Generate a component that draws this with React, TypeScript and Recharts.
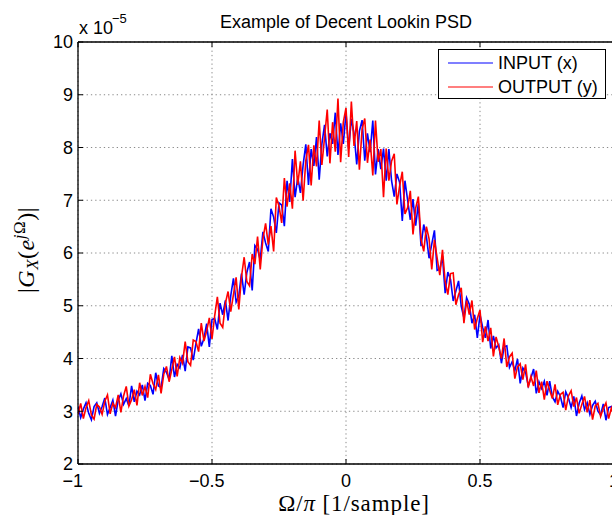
import React from 'react';
import { LineChart, Line, XAxis, YAxis, CartesianGrid, Legend } from 'recharts';

// Normalized frequency Ω/π
const freq = [
  -1, -0.99, -0.98, -0.97, -0.96, -0.95, -0.94, -0.93, -0.92, -0.91,
  -0.9, -0.89, -0.88, -0.87, -0.86, -0.85, -0.84, -0.83, -0.82, -0.81,
  -0.8, -0.79, -0.78, -0.77, -0.76, -0.75, -0.74, -0.73, -0.72, -0.71,
  -0.7, -0.69, -0.68, -0.67, -0.66, -0.65, -0.64, -0.63, -0.62, -0.61,
  -0.6, -0.59, -0.58, -0.57, -0.56, -0.55, -0.54, -0.53, -0.52, -0.51,
  -0.5, -0.49, -0.48, -0.47, -0.46, -0.45, -0.44, -0.43, -0.42, -0.41,
  -0.4, -0.39, -0.38, -0.37, -0.36, -0.35, -0.34, -0.33, -0.32, -0.31,
  -0.3, -0.29, -0.28, -0.27, -0.26, -0.25, -0.24, -0.23, -0.22, -0.21,
  -0.2, -0.19, -0.18, -0.17, -0.16, -0.15, -0.14, -0.13, -0.12, -0.11,
  -0.1, -0.09, -0.08, -0.07, -0.06, -0.05, -0.04, -0.03, -0.02, -0.01,
  0, 0.01, 0.02, 0.03, 0.04, 0.05, 0.06, 0.07, 0.08, 0.09,
  0.1, 0.11, 0.12, 0.13, 0.14, 0.15, 0.16, 0.17, 0.18, 0.19,
  0.2, 0.21, 0.22, 0.23, 0.24, 0.25, 0.26, 0.27, 0.28, 0.29,
  0.3, 0.31, 0.32, 0.33, 0.34, 0.35, 0.36, 0.37, 0.38, 0.39,
  0.4, 0.41, 0.42, 0.43, 0.44, 0.45, 0.46, 0.47, 0.48, 0.49,
  0.5, 0.51, 0.52, 0.53, 0.54, 0.55, 0.56, 0.57, 0.58, 0.59,
  0.6, 0.61, 0.62, 0.63, 0.64, 0.65, 0.66, 0.67, 0.68, 0.69,
  0.7, 0.71, 0.72, 0.73, 0.74, 0.75, 0.76, 0.77, 0.78, 0.79,
  0.8, 0.81, 0.82, 0.83, 0.84, 0.85, 0.86, 0.87, 0.88, 0.89,
  0.9, 0.91, 0.92, 0.93, 0.94, 0.95, 0.96, 0.97, 0.98, 0.99,
  1,
];

// INPUT (x) PSD, units of 1e-5
const inputX = [
  3.09, 2.88, 3.04, 3.16, 2.96, 2.84, 3.09, 3.16, 2.96, 3.09,
  3.25, 2.94, 3.07, 3.21, 2.91, 3.21, 3.33, 3.13, 3.24, 3.10,
  3.48, 3.18, 3.38, 3.31, 3.50, 3.20, 3.53, 3.49, 3.32, 3.73,
  3.48, 3.45, 3.81, 3.74, 3.60, 4.05, 3.65, 3.89, 3.82, 4.07,
  3.76, 4.22, 4.20, 3.97, 4.28, 4.56, 4.23, 4.38, 4.66, 4.22,
  4.74, 4.76, 4.55, 5.05, 4.83, 5.10, 4.72, 5.19, 5.52, 5.07,
  5.19, 5.61, 5.21, 5.63, 5.83, 5.29, 6.14, 6.07, 5.87, 6.40,
  6.19, 6.03, 6.84, 6.68, 6.38, 6.95, 6.91, 6.51, 7.37, 6.97,
  7.78, 7.06, 7.43, 7.14, 7.67, 8.06, 7.29, 7.97, 7.65, 8.20,
  7.39, 8.07, 8.43, 7.83, 8.27, 8.07, 8.66, 7.86, 8.46, 8.07,
  8.66, 7.98, 8.54, 8.27, 7.68, 8.31, 8.52, 7.75, 8.27, 7.91,
  8.51, 7.49, 7.97, 7.59, 7.98, 7.37, 7.97, 7.37, 7.07, 7.50,
  7.34, 6.61, 7.37, 7.00, 6.63, 7.02, 6.52, 6.94, 6.13, 6.54,
  6.31, 5.90, 6.17, 6.43, 5.67, 5.69, 5.94, 5.24, 5.64, 5.50,
  5.09, 5.28, 5.47, 4.99, 4.77, 5.15, 5.03, 4.67, 4.83, 4.39,
  4.83, 4.59, 4.39, 4.73, 4.19, 4.43, 4.20, 4.26, 3.91, 4.22,
  4.24, 3.83, 3.94, 3.77, 3.99, 3.53, 3.82, 3.74, 3.48, 3.63,
  3.80, 3.34, 3.56, 3.43, 3.57, 3.30, 3.57, 3.27, 3.18, 3.38,
  3.28, 3.07, 3.37, 3.25, 3.07, 3.28, 2.91, 3.15, 3.29, 3.03,
  3.16, 2.94, 3.11, 3.19, 3.00, 2.93, 3.14, 2.83, 3.07, 3.09,
  2.94,
];

// OUTPUT (y) PSD, units of 1e-5
const outputY = [
  2.94, 3.15, 2.86, 3.07, 3.20, 2.93, 2.85, 3.13, 3.08, 2.94,
  3.19, 3.31, 2.95, 3.15, 3.07, 3.31, 2.98, 3.29, 3.47, 3.10,
  3.22, 3.41, 3.11, 3.54, 3.30, 3.47, 3.26, 3.70, 3.52, 3.41,
  3.69, 3.34, 3.70, 3.85, 3.56, 3.79, 4.03, 3.66, 4.02, 3.91,
  4.32, 3.94, 3.87, 4.35, 4.32, 4.13, 4.67, 4.33, 4.52, 4.77,
  4.37, 4.81, 5.17, 4.67, 4.59, 5.05, 5.27, 4.89, 5.21, 5.54,
  4.93, 5.55, 5.92, 5.46, 5.38, 5.98, 5.79, 6.31, 5.69, 6.27,
  6.56, 6.16, 6.51, 6.03, 7.05, 6.89, 6.57, 7.42, 6.88, 7.32,
  6.84, 7.94, 7.29, 7.74, 6.99, 7.75, 8.05, 7.28, 8.04, 7.64,
  8.51, 7.67, 8.19, 8.72, 7.70, 8.48, 7.92, 8.93, 7.72, 8.48,
  8.75, 7.82, 8.87, 8.03, 8.50, 7.58, 8.35, 8.55, 7.71, 8.15,
  7.47, 8.51, 7.73, 7.97, 7.06, 7.98, 7.37, 7.74, 7.88, 6.92,
  7.27, 7.54, 6.74, 6.86, 7.18, 6.35, 6.85, 7.07, 6.26, 6.03,
  6.50, 6.27, 5.69, 6.25, 5.91, 5.58, 6.06, 5.46, 5.21, 5.61,
  5.62, 5.02, 5.21, 5.34, 4.67, 5.10, 4.83, 5.10, 4.55, 4.76,
  4.92, 4.31, 4.61, 4.33, 4.58, 4.04, 4.41, 4.22, 4.00, 4.38,
  3.84, 4.03, 4.10, 3.62, 3.84, 3.90, 3.60, 3.89, 3.45, 3.66,
  3.48, 3.77, 3.35, 3.56, 3.22, 3.57, 3.40, 3.24, 3.51, 3.12,
  3.32, 3.36, 3.02, 3.29, 3.39, 3.09, 3.26, 2.96, 3.13, 3.28,
  2.98, 3.21, 2.84, 3.10, 3.15, 2.90, 3.05, 3.16, 2.86, 3.06,
  2.91,
];

const xTicks = [-1, -0.5, 0, 0.5, 1];
const yTicks = [2, 3, 4, 5, 6, 7, 8, 9, 10];
const seriesNames = ['INPUT (x)', 'OUTPUT (y)'];
const titleText = 'Example of Decent Lookin PSD';

const rows = freq.map((f, i) => ({ f, x: inputX[i], y: outputY[i] }));

const SANS = '"Liberation Sans", Arial, Helvetica, sans-serif';
const SERIF = '"Liberation Serif", "DejaVu Serif", serif';
const FS = 18;

const numWidth = (s: string) => {
  let w = 0;
  for (const c of s) w += c === '.' ? 0.278 : 0.556;
  return w * FS;
};

const BottomTick = (props: any) => {
  const { x, y, payload } = props;
  const v: number = payload.value;
  const num = String(Math.abs(v));
  const w = numWidth(num);
  return (
    <g>
      <line x1={x} x2={x} y1={y} y2={y - 5} stroke="#000" strokeWidth={1} />
      <text x={x} y={y + 23} textAnchor="middle" fontFamily={SANS} fontSize={FS} fill="#000">
        {num}
      </text>
      {v < 0 && (
        <text x={x - w / 2} y={y + 23} textAnchor="end" fontFamily={SANS} fontSize={FS} fill="#000">
          {'\u2212'}
        </text>
      )}
    </g>
  );
};

const TopTick = (props: any) => {
  const { x, y } = props;
  return <line x1={x} x2={x} y1={y} y2={y + 5} stroke="#000" strokeWidth={1} />;
};

const LeftTick = (props: any) => {
  const { x, y, payload } = props;
  return (
    <g>
      <line x1={x} x2={x + 5} y1={y} y2={y} stroke="#000" strokeWidth={1} />
      <text x={x - 5} y={y} dy="0.36em" textAnchor="end" fontFamily={SANS} fontSize={FS} fill="#000">
        {payload.value}
      </text>
    </g>
  );
};

const TitleLabel = (props: any) => {
  const vb = props.viewBox || {};
  return (
    <text x={vb.x + vb.width / 2} y={vb.y + 6} textAnchor="middle" fontFamily={SANS} fontSize={FS} fill="#000">
      {titleText}
    </text>
  );
};

const XTitle = (props: any) => {
  const vb = props.viewBox || {};
  return (
    <text
      x={vb.x + vb.width / 2 + 8}
      y={vb.y + 47}
      textAnchor="middle"
      fontFamily={SERIF}
      fontSize={23}
      letterSpacing={0.9}
      fill="#000"
    >
      <tspan>Ω</tspan>
      <tspan>/</tspan>
      <tspan fontStyle="italic">π</tspan>
      <tspan> [1/sample]</tspan>
    </text>
  );
};

const YTitle = (props: any) => {
  const vb = props.viewBox || {};
  const cx = vb.x + 34;
  const cy = vb.y + vb.height / 2 - 3;
  return (
    <g>
      <text
        x={cx}
        y={cy}
        transform={`rotate(-90 ${cx} ${cy})`}
        textAnchor="middle"
        fontFamily={SERIF}
        fontSize={24}
        letterSpacing={0.5}
        fill="#000"
      >
        <tspan>|</tspan>
        <tspan fontStyle="italic">G</tspan>
        <tspan fontStyle="italic" fontSize={17} dy={4}>X</tspan>
        <tspan dy={-4}>(</tspan>
        <tspan fontStyle="italic">e</tspan>
        <tspan fontSize={17} dy={-9}>
          <tspan fontStyle="italic">j</tspan>Ω
        </tspan>
        <tspan dy={9}>)|</tspan>
      </text>
      <text x={vb.x + vb.width + 1} y={vb.y - 8} fontFamily={SANS} fontSize={FS} fill="#000">
        x 10
      </text>
      <text x={vb.x + vb.width + 34} y={vb.y - 19} fontFamily={SANS} fontSize={13} fill="#000">
        {'\u22125'}
      </text>
    </g>
  );
};

const LegendBox = (props: any) => {
  const payload = props.payload || [];
  return (
    <div
      style={{
        width: 166,
        height: 48,
        border: '1px solid #000',
        background: '#fff',
        fontFamily: SANS,
        fontSize: FS,
        color: '#000',
        boxSizing: 'content-box',
      }}
    >
      {payload.map((p: any, i: number) => (
        <div key={i} style={{ position: 'relative', height: 24, lineHeight: '24px' }}>
          <svg width={46} height={24} style={{ position: 'absolute', left: 9, top: 1 }}>
            <line x1={0} x2={45} y1={12} y2={12} stroke={p.color} strokeWidth={1.2} />
          </svg>
          <span style={{ position: 'absolute', left: 59, top: 1, whiteSpace: 'nowrap' }}>{p.value}</span>
        </div>
      ))}
    </div>
  );
};

export default function App() {
  return (
    <div
      style={{
        position: 'absolute',
        left: 0,
        top: 0,
        width: 612,
        height: 515,
        overflow: 'hidden',
        background: '#fff',
      }}
    >
      <LineChart width={640} height={515} data={rows} margin={{ top: 22, right: 26, bottom: 21, left: 0 }}>
        <CartesianGrid stroke="#8a8a8a" strokeDasharray="1.3 3" strokeWidth={1} />
        <XAxis
          dataKey="f"
          type="number"
          domain={[-1, 1]}
          ticks={xTicks}
          allowDataOverflow
          height={30}
          tickSize={0}
          tickMargin={0}
          tickLine={false}
          axisLine={{ stroke: '#000', strokeWidth: 1.3 }}
          tick={<BottomTick />}
          interval={0}
          label={(p: any) => <XTitle {...p} />}
        />
        <XAxis
          xAxisId="top"
          orientation="top"
          dataKey="f"
          type="number"
          domain={[-1, 1]}
          ticks={xTicks}
          allowDataOverflow
          height={20}
          tickSize={0}
          tickMargin={0}
          tickLine={false}
          axisLine={{ stroke: '#000', strokeWidth: 1.3 }}
          tick={<TopTick />}
          interval={0}
          label={(p: any) => <TitleLabel {...p} />}
        />
        <YAxis
          type="number"
          domain={[2, 10]}
          ticks={yTicks}
          allowDataOverflow
          width={78}
          tickSize={0}
          tickMargin={0}
          tickLine={false}
          axisLine={{ stroke: '#000', strokeWidth: 1.3 }}
          tick={<LeftTick />}
          interval={0}
          label={(p: any) => <YTitle {...p} />}
        />
        <Legend
          layout="vertical"
          align="center"
          verticalAlign="middle"
          content={<LegendBox />}
          wrapperStyle={{ left: 438, top: 49, width: 168, height: 50, right: 'auto', bottom: 'auto' }}
        />
        <Line
          dataKey="x"
          name={seriesNames[0]}
          stroke="#0000ff"
          strokeWidth={1.6}
          dot={false}
          isAnimationActive={false}
          type="linear"
        />
        <Line
          dataKey="y"
          name={seriesNames[1]}
          stroke="#ff0000"
          strokeWidth={1.6}
          dot={false}
          isAnimationActive={false}
          type="linear"
        />
      </LineChart>
    </div>
  );
}
